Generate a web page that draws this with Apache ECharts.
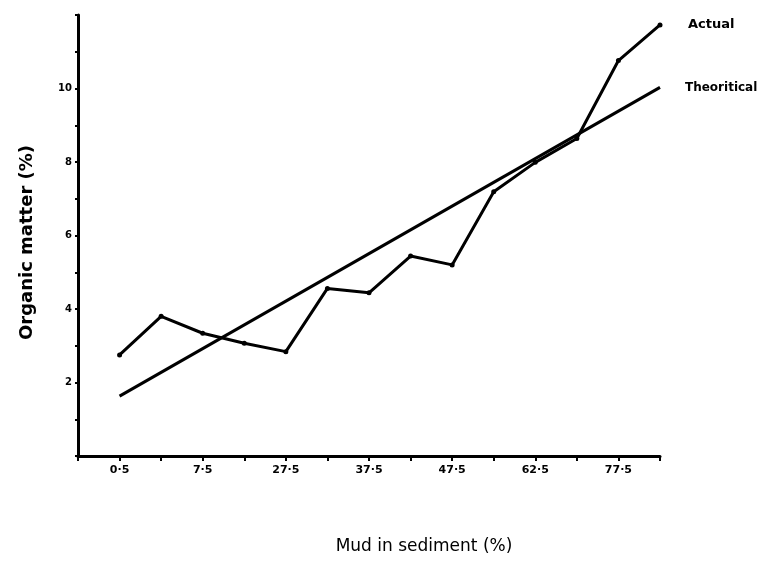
<!DOCTYPE html>
<html>
<head>
<meta charset="utf-8">
<script src="https://cdn.jsdelivr.net/npm/echarts@6/dist/echarts.min.js"></script>
<style>html,body{margin:0;padding:0;background:#fff}#c{width:783px;height:564px}</style>
</head>
<body>
<div id="c"></div>
<script>
// Position index along the mud axis (0..13) and tick labels (every other tick labelled)
var xTickLabels = ['0·5', '', '7·5', '', '27·5', '', '37·5', '', '47·5', '', '62·5', '', '77·5', ''];
var actualValues = [2.75, 3.8, 3.34, 3.07, 2.84, 4.56, 4.44, 5.44, 5.2, 7.19, 7.99, 8.64, 10.76, 11.73];
var theoreticalIdx = [0, 13];
var theoreticalValues = [1.63, 10.03];
var yTickLabels = ['2', '4', '6', '8', '10'];

var actualData = actualValues.map(function (v, i) { return [i, v]; });
var theoData = theoreticalIdx.map(function (x, i) { return [x, theoreticalValues[i]]; });

var chart = echarts.init(document.getElementById('c'), null, { renderer: 'canvas' });
var fam = 'DejaVu Sans';
chart.setOption({
  animation: false,
  backgroundColor: '#ffffff',
  grid: { left: 78, right: 123, top: 15, bottom: 108 },
  xAxis: {
    type: 'value', min: -1, max: 13, interval: 1,
    name: 'Mud in sediment (%)', nameLocation: 'middle', nameGap: 82,
    nameTextStyle: { fontFamily: fam, fontSize: 17, color: '#000', padding: [0, 0, 0, 110] },
    axisLine: { show: true, onZero: false, lineStyle: { color: '#000', width: 3 } },
    axisTick: { show: true, length: 5, lineStyle: { color: '#000', width: 2 } },
    axisLabel: {
      fontFamily: fam, fontWeight: 'bold', fontSize: 11, color: '#000', margin: 9,
      formatter: function (v) { return (v >= 0 && v < xTickLabels.length) ? xTickLabels[v] : ''; }
    },
    splitLine: { show: false }
  },
  yAxis: {
    type: 'value', min: 0, max: 12, interval: 1,
    name: 'Organic matter (%)', nameLocation: 'middle', nameGap: 42, nameRotate: 90,
    nameTextStyle: { fontFamily: fam, fontWeight: 'bold', fontSize: 18, color: '#000', padding: [0, 0, 0, -14] },
    axisLine: { show: true, onZero: false, lineStyle: { color: '#000', width: 3 } },
    axisTick: { show: true, length: 3, lineStyle: { color: '#000', width: 2 } },
    axisLabel: {
      fontFamily: fam, fontWeight: 'bold', fontSize: 10, color: '#000', margin: 6,
      formatter: function (v) { return (v % 2 === 0 && v >= 2 && v <= 10) ? yTickLabels[v / 2 - 1] : ''; }
    },
    splitLine: { show: false }
  },
  series: [
    {
      name: 'Actual', type: 'line', data: actualData,
      lineStyle: { color: '#000', width: 3 },
      itemStyle: { color: '#000' },
      symbol: 'circle', symbolSize: 5, showSymbol: true,
      endLabel: { show: true, formatter: '{a}', distance: 28, fontFamily: fam, fontWeight: 'bold', fontSize: 13, color: '#000' }
    },
    {
      name: 'Theoritical', type: 'line', data: theoData,
      lineStyle: { color: '#000', width: 3 },
      itemStyle: { color: '#000' },
      symbol: 'none',
      endLabel: { show: true, formatter: '{a}', distance: 25, fontFamily: fam, fontWeight: 'bold', fontSize: 12, color: '#000' }
    }
  ]
});
</script>
</body>
</html>
